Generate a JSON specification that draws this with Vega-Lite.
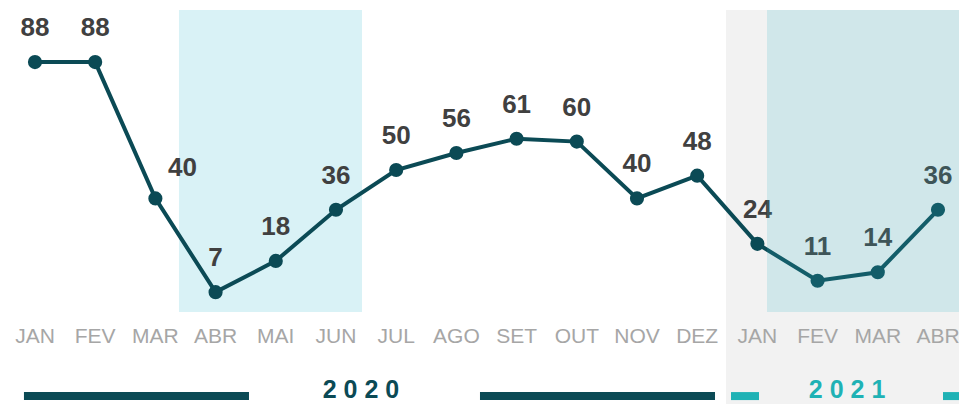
{
  "$schema": "https://vega.github.io/schema/vega-lite/v6.json",
  "width": 959,
  "height": 404,
  "autosize": {"type": "none"},
  "padding": 0,
  "background": "white",
  "config": {"view": {"stroke": null}, "font": "Liberation Sans"},
  "datasets": {
    "serie": [
      {"i": 0, "mes": "JAN", "ano": "2020", "v": 88},
      {"i": 1, "mes": "FEV", "ano": "2020", "v": 88},
      {"i": 2, "mes": "MAR", "ano": "2020", "v": 40},
      {"i": 3, "mes": "ABR", "ano": "2020", "v": 7},
      {"i": 4, "mes": "MAI", "ano": "2020", "v": 18},
      {"i": 5, "mes": "JUN", "ano": "2020", "v": 36},
      {"i": 6, "mes": "JUL", "ano": "2020", "v": 50},
      {"i": 7, "mes": "AGO", "ano": "2020", "v": 56},
      {"i": 8, "mes": "SET", "ano": "2020", "v": 61},
      {"i": 9, "mes": "OUT", "ano": "2020", "v": 60},
      {"i": 10, "mes": "NOV", "ano": "2020", "v": 40},
      {"i": 11, "mes": "DEZ", "ano": "2020", "v": 48},
      {"i": 12, "mes": "JAN", "ano": "2021", "v": 24},
      {"i": 13, "mes": "FEV", "ano": "2021", "v": 11},
      {"i": 14, "mes": "MAR", "ano": "2021", "v": 14},
      {"i": 15, "mes": "ABR", "ano": "2021", "v": 36}
    ],
    "faixas": [
      {"x1": 2.392, "x2": 5.432, "y1": 0, "y2": 106.3, "tipo": "a"},
      {"x1": 11.479, "x2": 15.349, "y1": -32.39, "y2": 106.3, "tipo": "g"}
    ],
    "sobre": [
      {"x1": 12.16, "x2": 15.349, "y1": 0, "y2": 106.3}
    ],
    "anos": [
      {"x1": -0.183, "x2": 3.555, "ano": "2020"},
      {"x1": 7.392, "x2": 11.296, "ano": "2020"},
      {"x1": 11.562, "x2": 12.027, "ano": "2021"},
      {"x1": 15.083, "x2": 15.349, "ano": "2021"}
    ],
    "rotulosAno": [
      {"xc": 5.415, "texto": "2 0 2 0", "ano": "2020"},
      {"xc": 13.49, "texto": "2 0 2 1", "ano": "2021"}
    ]
  },
  "layer": [
    {
      "data": {"name": "faixas"},
      "transform": [{"filter": "datum.tipo == 'a'"}],
      "mark": {"type": "rect", "color": "#D9F2F6"},
      "encoding": {
        "x": {"field": "x1", "type": "quantitative", "scale": {"domain": [-0.581, 15.349], "nice": false, "zero": false}, "axis": null},
        "x2": {"field": "x2"},
        "y": {"field": "y1", "type": "quantitative", "scale": {"domain": [-32.39, 109.86], "nice": false, "zero": false}, "axis": null},
        "y2": {"field": "y2"}
      }
    },
    {
      "data": {"name": "faixas"},
      "transform": [{"filter": "datum.tipo == 'g'"}],
      "mark": {"type": "rect", "color": "#F2F2F2"},
      "encoding": {
        "x": {"field": "x1", "type": "quantitative"},
        "x2": {"field": "x2"},
        "y": {"field": "y1", "type": "quantitative"},
        "y2": {"field": "y2"}
      }
    },
    {
      "mark": {"type": "rule", "color": "#D9D9D9", "strokeWidth": 2},
      "encoding": {
        "x": {"datum": -0.5, "type": "quantitative"},
        "x2": {"datum": 15.349},
        "y": {"datum": 0, "type": "quantitative"}
      }
    },
    {
      "data": {"name": "serie"},
      "mark": {"type": "line", "color": "#0B4A55", "strokeWidth": 4},
      "encoding": {
        "x": {"field": "i", "type": "quantitative"},
        "y": {"field": "v", "type": "quantitative"}
      }
    },
    {
      "data": {"name": "serie"},
      "mark": {"type": "point", "filled": true, "color": "#0B4A55", "size": 200, "opacity": 1},
      "encoding": {
        "x": {"field": "i", "type": "quantitative"},
        "y": {"field": "v", "type": "quantitative"}
      }
    },
    {
      "data": {"name": "serie"},
      "transform": [{"filter": "datum.i != 2"}],
      "mark": {"type": "text", "font": "Liberation Sans", "fontWeight": "bold", "fontSize": 26, "color": "#404040", "baseline": "middle", "dy": -34},
      "encoding": {
        "x": {"field": "i", "type": "quantitative"},
        "y": {"field": "v", "type": "quantitative"},
        "text": {"field": "v", "type": "quantitative"}
      }
    },
    {
      "data": {"name": "serie"},
      "transform": [{"filter": "datum.i == 2"}],
      "mark": {"type": "text", "font": "Liberation Sans", "fontWeight": "bold", "fontSize": 26, "color": "#404040", "baseline": "middle", "dx": 27, "dy": -30},
      "encoding": {
        "x": {"field": "i", "type": "quantitative"},
        "y": {"field": "v", "type": "quantitative"},
        "text": {"field": "v", "type": "quantitative"}
      }
    },
    {
      "data": {"name": "serie"},
      "mark": {"type": "text", "font": "Liberation Sans", "fontSize": 21, "color": "#A6A6A6", "baseline": "middle"},
      "encoding": {
        "x": {"field": "i", "type": "quantitative"},
        "y": {"datum": -8.8, "type": "quantitative"},
        "text": {"field": "mes", "type": "nominal"}
      }
    },
    {
      "data": {"name": "anos"},
      "mark": {"type": "rule", "strokeWidth": 8},
      "encoding": {
        "x": {"field": "x1", "type": "quantitative"},
        "x2": {"field": "x2"},
        "y": {"datum": -29.6, "type": "quantitative"},
        "color": {"field": "ano", "type": "nominal", "scale": {"domain": ["2020", "2021"], "range": ["#0B4A55", "#1FB2B5"]}, "legend": null}
      }
    },
    {
      "data": {"name": "rotulosAno"},
      "mark": {"type": "text", "font": "Liberation Sans", "fontWeight": "bold", "fontSize": 25, "baseline": "middle"},
      "encoding": {
        "x": {"field": "xc", "type": "quantitative"},
        "y": {"datum": -27.6, "type": "quantitative"},
        "text": {"field": "texto", "type": "nominal"},
        "color": {"field": "ano", "type": "nominal", "legend": null}
      }
    },
    {
      "data": {"name": "sobre"},
      "mark": {"type": "rect", "color": "#39B6CA", "opacity": 0.18},
      "encoding": {
        "x": {"field": "x1", "type": "quantitative"},
        "x2": {"field": "x2"},
        "y": {"field": "y1", "type": "quantitative"},
        "y2": {"field": "y2"}
      }
    }
  ]
}
